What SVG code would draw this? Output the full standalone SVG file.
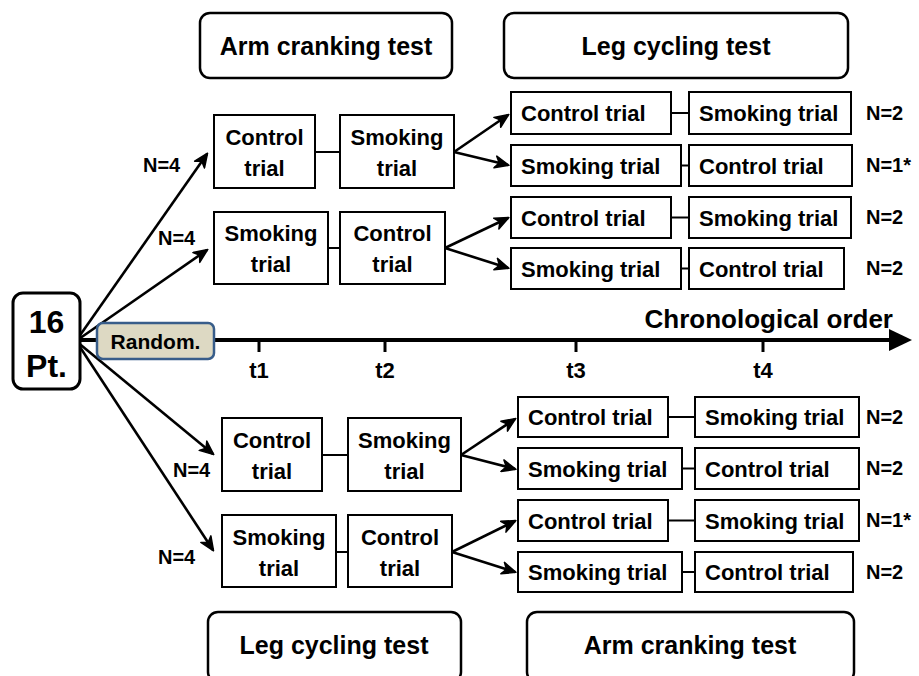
<svg xmlns="http://www.w3.org/2000/svg" width="919" height="676" viewBox="0 0 919 676">
<style>
text{font-family:"Liberation Sans",Arial,sans-serif;font-weight:bold;fill:#000}
.box{fill:#fff;stroke:#000;stroke-width:2}
.hdr{fill:#fff;stroke:#000;stroke-width:2.5}
.t{font-size:22px}
.c{text-anchor:middle}
.h{font-size:25px;text-anchor:middle}
.n{font-size:20px}
.ln{stroke:#000;stroke-width:2;fill:none}
.ar{stroke:#000;stroke-width:2.6;fill:none;marker-end:url(#ah)}
</style>
<defs>
<marker id="ah" markerUnits="userSpaceOnUse" markerWidth="16" markerHeight="14" viewBox="0 0 16 14" refX="14" refY="7" orient="auto">
<path d="M1,1 L15,7 L1,13 L5,7 Z" fill="#000" stroke="#000" stroke-width="1.5" stroke-linejoin="round"/>
</marker>
</defs>
<rect width="919" height="676" fill="#fff"/>

<g id="connectors">
<line x1="76" y1="340" x2="892" y2="340" stroke="#000" stroke-width="4"/>
<polygon points="889,329 912,340 889,351" fill="#000"/>
<line x1="259" y1="338" x2="259" y2="352" stroke="#000" stroke-width="3"/>
<line x1="385" y1="338" x2="385" y2="352" stroke="#000" stroke-width="3"/>
<line x1="576" y1="338" x2="576" y2="352" stroke="#000" stroke-width="3"/>
<line x1="763" y1="338" x2="763" y2="352" stroke="#000" stroke-width="3"/>
<line class="ar" x1="76" y1="341" x2="207" y2="154"/>
<line class="ar" x1="76" y1="341" x2="207" y2="250"/>
<line class="ar" x1="76" y1="341" x2="213" y2="454"/>
<line class="ar" x1="76" y1="341" x2="213" y2="550"/>
<line class="ln" x1="315" y1="152" x2="340" y2="152"/>
<line class="ln" x1="328" y1="248" x2="340" y2="248"/>
<line class="ln" x1="322" y1="455" x2="348" y2="455"/>
<line class="ln" x1="336" y1="552" x2="348" y2="552"/>
<line class="ar" x1="454" y1="152" x2="508" y2="115"/>
<line class="ar" x1="454" y1="152" x2="508" y2="165"/>
<line class="ar" x1="445" y1="248" x2="508" y2="218"/>
<line class="ar" x1="445" y1="248" x2="508" y2="268"/>
<line class="ar" x1="461" y1="455" x2="515" y2="419"/>
<line class="ar" x1="461" y1="455" x2="515" y2="469"/>
<line class="ar" x1="452" y1="552" x2="515" y2="521"/>
<line class="ar" x1="452" y1="552" x2="515" y2="572"/>
<line class="ln" x1="671" y1="113" x2="689" y2="113"/>
<line class="ln" x1="681" y1="165.5" x2="689" y2="165.5"/>
<line class="ln" x1="671" y1="217.5" x2="689" y2="217.5"/>
<line class="ln" x1="681" y1="268.5" x2="689" y2="268.5"/>
<line class="ln" x1="668" y1="417" x2="695" y2="417"/>
<line class="ln" x1="682" y1="468.5" x2="695" y2="468.5"/>
<line class="ln" x1="668" y1="520.5" x2="695" y2="520.5"/>
<line class="ln" x1="682" y1="572" x2="695" y2="572"/>
</g>

<g id="hdr-arm-top"><rect class="hdr" x="200" y="13" width="252" height="65" rx="10"/><text class="h" x="326" y="55">Arm cranking test</text></g>
<g id="hdr-leg-top"><rect class="hdr" x="504" y="13" width="344" height="65" rx="10"/><text class="h" x="676" y="55">Leg cycling test</text></g>
<g id="hdr-leg-bottom"><rect class="hdr" x="208" y="612" width="253" height="70" rx="10"/><text class="h" x="334" y="654">Leg cycling test</text></g>
<g id="hdr-arm-bottom"><rect class="hdr" x="527" y="612" width="327" height="70" rx="10"/><text class="h" x="690" y="654">Arm cranking test</text></g>

<g id="pt16"><rect x="13" y="293" width="67" height="96" rx="10" fill="#fff" stroke="#000" stroke-width="3"/><text x="46.5" y="333" font-size="32" text-anchor="middle">16</text><text x="46.5" y="377" font-size="32" text-anchor="middle">Pt.</text></g>
<g id="random"><rect x="97" y="323" width="117" height="36" rx="6" fill="#ddd9c3" stroke="#385d8a" stroke-width="2.5"/><text x="155.5" y="349" font-size="21" text-anchor="middle">Random.</text></g>

<g id="chrono"><text x="893" y="328" font-size="26" text-anchor="end">Chronological order</text></g>
<g id="ticks">
<text class="t c" x="259" y="378">t1</text>
<text class="t c" x="385" y="378">t2</text>
<text class="t c" x="576" y="378">t3</text>
<text class="t c" x="763" y="378">t4</text>
</g>

<g id="nlabels">
<text class="n" x="143" y="172">N=4</text>
<text class="n" x="158" y="245">N=4</text>
<text class="n" x="173" y="477">N=4</text>
<text class="n" x="158" y="564">N=4</text>
<text class="n" x="866" y="120">N=2</text>
<text class="n" x="866" y="172">N=1*</text>
<text class="n" x="866" y="224">N=2</text>
<text class="n" x="866" y="275">N=2</text>
<text class="n" x="866" y="424">N=2</text>
<text class="n" x="866" y="475">N=2</text>
<text class="n" x="866" y="527">N=1*</text>
<text class="n" x="866" y="579">N=2</text>
</g>

<g id="a1-control"><rect class="box" x="214" y="115" width="101" height="73"/><text class="t c" x="264.5" y="145">Control</text><text class="t c" x="264.5" y="176">trial</text></g>
<g id="a1-smoking"><rect class="box" x="340" y="115" width="114" height="73"/><text class="t c" x="397" y="145">Smoking</text><text class="t c" x="397" y="176">trial</text></g>
<g id="a2-smoking"><rect class="box" x="214" y="212" width="114" height="72"/><text class="t c" x="271" y="241">Smoking</text><text class="t c" x="271" y="272">trial</text></g>
<g id="a2-control"><rect class="box" x="340" y="212" width="105" height="72"/><text class="t c" x="392.5" y="241">Control</text><text class="t c" x="392.5" y="272">trial</text></g>
<g id="b1-control"><rect class="box" x="222" y="418" width="100" height="73"/><text class="t c" x="272" y="448">Control</text><text class="t c" x="272" y="479">trial</text></g>
<g id="b1-smoking"><rect class="box" x="348" y="418" width="113" height="73"/><text class="t c" x="404.5" y="448">Smoking</text><text class="t c" x="404.5" y="479">trial</text></g>
<g id="b2-smoking"><rect class="box" x="222" y="515" width="114" height="72"/><text class="t c" x="279" y="545">Smoking</text><text class="t c" x="279" y="576">trial</text></g>
<g id="b2-control"><rect class="box" x="348" y="515" width="104" height="72"/><text class="t c" x="400" y="545">Control</text><text class="t c" x="400" y="576">trial</text></g>

<g id="u1a"><rect class="box" x="511" y="92" width="160" height="42"/><text class="t" x="521" y="121">Control trial</text></g>
<g id="u1b"><rect class="box" x="689" y="92" width="162" height="42"/><text class="t" x="699" y="121">Smoking trial</text></g>
<g id="u2a"><rect class="box" x="511" y="145" width="170" height="41"/><text class="t" x="521" y="173.5">Smoking trial</text></g>
<g id="u2b"><rect class="box" x="689" y="145" width="163" height="41"/><text class="t" x="699" y="173.5">Control trial</text></g>
<g id="u3a"><rect class="box" x="511" y="197" width="160" height="41"/><text class="t" x="521" y="225.5">Control trial</text></g>
<g id="u3b"><rect class="box" x="689" y="197" width="162" height="41"/><text class="t" x="699" y="225.5">Smoking trial</text></g>
<g id="u4a"><rect class="box" x="511" y="248" width="170" height="41"/><text class="t" x="521" y="276.5">Smoking trial</text></g>
<g id="u4b"><rect class="box" x="689" y="248" width="155" height="41"/><text class="t" x="699" y="276.5">Control trial</text></g>

<g id="l1a"><rect class="box" x="518" y="397" width="150" height="40"/><text class="t" x="528" y="425">Control trial</text></g>
<g id="l1b"><rect class="box" x="695" y="397" width="164" height="40"/><text class="t" x="705" y="425">Smoking trial</text></g>
<g id="l2a"><rect class="box" x="518" y="448" width="164" height="41"/><text class="t" x="528" y="476.5">Smoking trial</text></g>
<g id="l2b"><rect class="box" x="695" y="448" width="164" height="41"/><text class="t" x="705" y="476.5">Control trial</text></g>
<g id="l3a"><rect class="box" x="518" y="500" width="150" height="41"/><text class="t" x="528" y="528.5">Control trial</text></g>
<g id="l3b"><rect class="box" x="695" y="500" width="164" height="41"/><text class="t" x="705" y="528.5">Smoking trial</text></g>
<g id="l4a"><rect class="box" x="518" y="552" width="164" height="40"/><text class="t" x="528" y="580">Smoking trial</text></g>
<g id="l4b"><rect class="box" x="695" y="552" width="158" height="40"/><text class="t" x="705" y="580">Control trial</text></g>
</svg>
